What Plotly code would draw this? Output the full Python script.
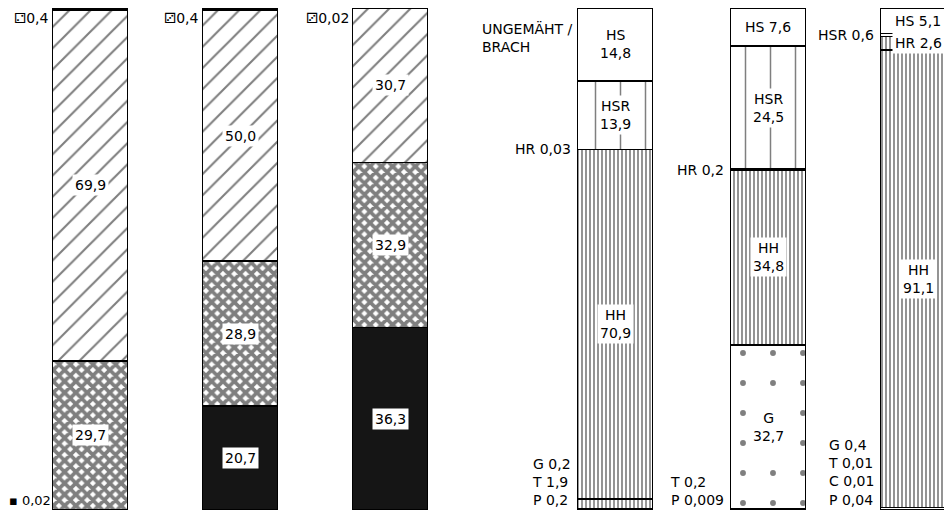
import plotly.graph_objects as go

# ---------------- data ----------------
left_bars = ["1", "2", "3"]
left_black = [0.02, 20.7, 36.3]
left_cross = [29.7, 28.9, 32.9]
left_diag = [69.9, 50.0, 30.7]
left_top = [0.4, 0.4, 0.02]

right_bars = ["4", "5", "6"]
P = [0.2, 0.009, 0.04]
C = [0.0, 0.0, 0.01]
T = [1.9, 0.2, 0.01]
G = [0.2, 32.7, 0.4]
HH = [70.9, 34.8, 91.1]
HR = [0.03, 0.2, 2.6]
HSR = [13.9, 24.5, 0.6]
HS = [14.8, 7.6, 5.1]

group_title = "UNGEMÄHT /<br>BRACH"

# ---------------- style ----------------
X_POS = {"1": 0.0, "2": 1.0, "3": 2.0, "4": 3.5, "5": 4.52, "6": 5.52}
BAR_W = 0.5
FONT = "DejaVu Sans, sans-serif"
TOP_ICONS = ["\u2681", "\u2682", "\u2682"]
LINE = dict(color="black", width=1.6)


def fmt(v):
    return str(v).replace(".", ",")


fig = go.Figure()


def add_stack(cats, vals, pattern, color="white"):
    fig.add_trace(go.Bar(
        x=[X_POS[c] for c in cats], y=vals, width=BAR_W,
        marker=dict(color=color, line=LINE, pattern=pattern),
        showlegend=False, hoverinfo="skip"))


# left group: bottom -> top
add_stack(left_bars, left_black, None, color="#151515")
add_stack(left_bars, left_cross, dict(shape="x", size=8, solidity=0.72, fgcolor="black", bgcolor="white"))
add_stack(left_bars, left_diag, dict(shape="/", size=15, solidity=0.14, fgcolor="black", bgcolor="white"))
add_stack(left_bars, left_top, dict(shape=".", size=6, solidity=0.2, fgcolor="black", bgcolor="white"))

# right group: bottom -> top
add_stack(right_bars, P, dict(shape=".", size=20, solidity=0.12, fgcolor="black", bgcolor="white"))
add_stack(right_bars, C, None)
add_stack(right_bars, T, dict(shape="|", size=4, solidity=0.4, fgcolor="black", bgcolor="white"))
add_stack(right_bars, G, dict(shape=".", size=30, solidity=0.03, fgcolor="black", bgcolor="white"))
add_stack(right_bars, HH, dict(shape="|", size=4, solidity=0.42, fgcolor="black", bgcolor="white"))
add_stack(right_bars, HR, dict(shape="|", size=4, solidity=0.42, fgcolor="black", bgcolor="white"))
add_stack(right_bars, HSR, dict(shape="|", size=25, solidity=0.06, fgcolor="black", bgcolor="white"))
add_stack(right_bars, HS, None)

ann = []


def inside(x, y, text):
    ann.append(dict(x=x, y=y, text=text, showarrow=False, bgcolor="white",
                    borderpad=2, font=dict(family=FONT, size=14, color="black")))


def side(x, y, text, yanchor="middle", gap=0.03, size=14):
    ann.append(dict(x=x - BAR_W / 2 - gap, y=y, text=text, showarrow=False,
                    xanchor="right", yanchor=yanchor, align="left",
                    font=dict(family=FONT, size=size, color="black")))


# left group labels
for i, c in enumerate(left_bars):
    x = X_POS[c]
    segs = [left_black[i], left_cross[i], left_diag[i], left_top[i]]
    tot = sum(segs)
    cum = 0.0
    for k, v in enumerate(segs):
        mid = (cum + v / 2) / tot * 100
        if v >= 1:
            inside(x, mid, fmt(v))
        elif k == 0:
            side(x, 0, "\u25aa " + fmt(v), yanchor="bottom", gap=0.0, size=13)
        else:
            side(x, 100, TOP_ICONS[i] + fmt(v), yanchor="top", gap=0.01)
        cum += v

# right group labels
for i, c in enumerate(right_bars):
    x = X_POS[c]
    segs = [("P", P[i]), ("C", C[i]), ("T", T[i]), ("G", G[i]), ("HH", HH[i]),
            ("HR", HR[i]), ("HSR", HSR[i]), ("HS", HS[i])]
    tot = sum(v for _, v in segs)
    cum = 0.0
    small = []
    for name, v in segs:
        mid = (cum + v / 2) / tot * 100
        if name in ("P", "C", "T") or (name == "G" and v < 1):
            if v > 0:
                small.append(f"{name} {fmt(v)}")
        elif v < 1:
            side(x, mid, f"{name} {fmt(v)}")
        elif v < 10:
            inside(x, mid, f"{name} {fmt(v)}")
        else:
            inside(x, mid, f"{name}<br>{fmt(v)}")
        cum += v
    if small:
        side(x, 0, "<br>".join(reversed(small)), yanchor="bottom")

ann.append(dict(x=X_POS["4"] - 0.9, y=98, xanchor="left", yanchor="top",
                text=group_title, showarrow=False, align="left",
                font=dict(family=FONT, size=14, color="black")))

fig.update_layout(
    width=944, height=507,
    margin=dict(l=0, r=0, t=0, b=5),
    barmode="stack", barnorm="percent",
    plot_bgcolor="white", paper_bgcolor="white",
    xaxis=dict(range=[-82 / 150, (944 - 82) / 150], visible=False),
    yaxis=dict(range=[0, 100], visible=False),
    annotations=ann,
)

fig.write_html("out.html")
